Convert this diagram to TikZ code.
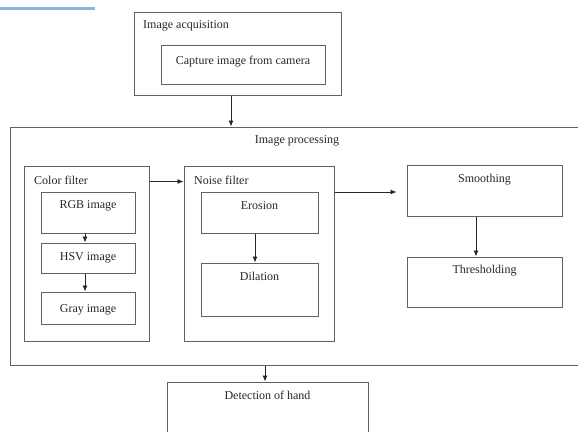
\documentclass[tikz,border=0pt]{standalone}
\usepackage{fontspec}
\setmainfont{Liberation Serif}
\usetikzlibrary{arrows.meta,positioning}

\tikzset{
	box/.style = {draw=black!62, line width=1pt, inner sep=0pt},
	lbl/.style = {inner sep=0pt, text=black!85, font=\fontsize{12}{14}\selectfont},
	arr/.style = {draw=black!85, line width=0.9pt, -{Latex[length=6pt,width=5pt]}}
}

\begin{document}
\begin{tikzpicture}[x=1pt,y=-1pt]
%
	\useasboundingbox (0,0) rectangle (578,431);
	\clip (0,0) rectangle (578,431);
	\draw[line width=3pt, color={rgb,255:red,141;green,179;blue,226}] (0,8) -- (95,8);
%
	% acquisition
	\node[box, minimum width=207pt, minimum height=83pt] (acq) at (237.5,53.5) {};
	\node[lbl, anchor=west] (acqlbl) at (143,26) {Image acquisition};
	\node[box, minimum width=164pt, minimum height=39pt] (cap) at (243,64.5) {};
	\node[lbl] (caplbl) at (243,62) {Capture image from camera};
%
	% processing
	\node[box, minimum width=590pt, minimum height=238pt] (proc) at (305,246) {};
	\node[lbl] (proclbl) at (297,141) {Image processing};
%
	\node[box, minimum width=125pt, minimum height=175pt] (col) at (86.5,253.5) {};
	\node[lbl, anchor=west] (collbl) at (34,180) {Color filter};
	\node[box, minimum width=94pt, minimum height=41pt] (rgb) at (88,212.5) {};
	\node[lbl] (rgblbl) at ([yshift=-14pt]rgb.north) {RGB image};
	\node[box, minimum width=94pt, minimum height=30pt] (hsv) at (88,258) {};
	\node[lbl] (hsvlbl) at (hsv) {HSV image};
	\node[box, minimum width=94pt, minimum height=32pt] (gray) at (88,308) {};
	\node[lbl] (graylbl) at ([yshift=-2pt]gray.center) {Gray image};
%
	\node[box, minimum width=150pt, minimum height=175pt] (noise) at (259,253.5) {};
	\node[lbl, anchor=west] (noiselbl) at (194,180) {Noise filter};
	\node[box, minimum width=117pt, minimum height=41pt] (ero) at (259.5,212.5) {};
	\node[lbl] (erolbl) at ([yshift=-14pt]ero.north) {Erosion};
	\node[box, minimum width=117pt, minimum height=53pt] (dil) at (259.5,289.5) {};
	\node[lbl] (dillbl) at ([yshift=-14pt]dil.north) {Dilation};
%
	\node[box, minimum width=155pt, minimum height=51pt] (smooth) at (484.5,190.5) {};
	\node[lbl] (smoothlbl) at ([yshift=-15pt]smooth.north) {Smoothing};
	\node[box, minimum width=155pt, minimum height=50pt] (thr) at (484.5,282) {};
	\node[lbl] (thrlbl) at ([yshift=-14pt]thr.north) {Thresholding};
%
	% detection
	\node[box, minimum width=201pt, minimum height=100pt] (det) at (267.5,432) {};
	\node[lbl] (detlbl) at ([yshift=-14pt]det.north) {Detection of hand};
%
	% arrows
	\draw[arr] ([xshift=-6.5pt]acq.south) -- ([xshift=-6.5pt]acq.south |- proc.north);
	\draw[arr] ([xshift=-3pt]rgb.south) -- ([xshift=-3pt]hsv.north);
	\draw[arr] ([xshift=-3pt]hsv.south) -- ([xshift=-3pt]gray.north);
	\draw[arr] ([yshift=-16pt]col.north east) -- ([yshift=-16pt]noise.north west);
	\draw[arr] ([xshift=-4.5pt]ero.south) -- ([xshift=-4.5pt]dil.north);
	\draw[arr] ([yshift=-1.5pt]smooth.west -| noise.east) -- ([xshift=-10pt,yshift=-1.5pt]smooth.west);
	\draw[arr] ([xshift=-8.5pt]smooth.south) -- ([xshift=-8.5pt]thr.north);
	\draw[arr] ([xshift=-2.5pt]det.north |- proc.south) -- ([xshift=-2.5pt]det.north);
%
\end{tikzpicture}
\end{document}
